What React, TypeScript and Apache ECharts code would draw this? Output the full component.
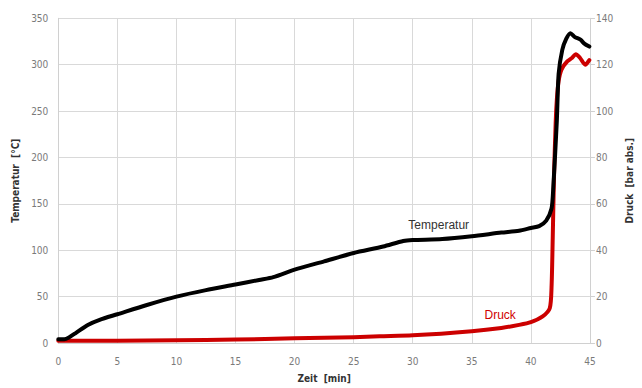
import React, { useEffect, useRef } from "react";
import * as echarts from "echarts";

const timeTemp: number[] = [0, 0.5, 0.9, 1.5, 2.5, 3.5, 5, 7.5, 10, 12.5, 15, 17, 18.2, 20, 22.5, 25, 27.5, 29.2, 30, 32.5, 35, 37.5, 39, 40, 40.7, 41.3, 41.75, 41.9, 42.2, 42.35, 42.66, 43.0, 43.35, 43.7, 44.2, 44.5, 44.95];
const temperatur: number[] = [4, 4, 6, 11, 19.5, 25, 31, 41, 50, 57, 63, 68, 71, 79, 88, 97, 104, 110, 111, 112, 115, 119, 121, 124, 126, 132, 145, 168, 240, 290, 316, 328, 334, 330, 327, 323, 319.5];

const timeDruck: number[] = [0, 5, 10, 15, 20, 25, 27.2, 30, 35, 37.5, 39, 40, 41, 41.6, 41.75, 41.85, 41.95, 42.1, 42.2, 42.35, 42.6, 43.1, 43.5, 43.8, 44.15, 44.6, 44.95];
const druck: number[] = [1.0, 1.0, 1.2, 1.5, 2.0, 2.5, 2.9, 3.3, 5.1, 6.5, 7.8, 9.0, 11.5, 15, 24, 45, 70, 95, 105, 113, 118, 121.5, 123, 124.5, 123, 120, 122];

const xTicks = { min: 0, max: 45, interval: 5 };
const yLeftTicks = { min: 0, max: 350, interval: 50 };
const yRightTicks = { min: 0, max: 140, interval: 20 };

const FONT = "'Liberation Sans Narrow', 'DejaVu Sans Condensed', 'Liberation Sans', sans-serif";

export default function App() {
  const ref = useRef<HTMLDivElement>(null);
  useEffect(() => {
    document.body.style.margin = "0";
    const chart = echarts.init(ref.current!, undefined, { renderer: "svg" });
    const axisLabel = { color: "#7a7a7a", fontSize: 10, fontFamily: FONT };
    const nameStyle = { color: "#333", fontSize: 10, fontWeight: "bold" as const, fontFamily: FONT };
    const splitLine = { show: true, lineStyle: { color: "#d9d9d9", width: 1 } };
    chart.setOption({
      animation: false,
      backgroundColor: "#fff",
      grid: { left: 58.3, right: 51.5, top: 18.3, bottom: 44.2, containLabel: false },
      xAxis: {
        type: "value",
        ...xTicks,
        name: "Zeit  [min]",
        nameLocation: "middle",
        nameGap: 30,
        nameTextStyle: nameStyle,
        axisLine: { show: true, lineStyle: { color: "#d0d0d0" } },
        axisTick: { show: false },
        axisLabel: { ...axisLabel, margin: 13 },
        splitLine,
      },
      yAxis: [
        {
          type: "value",
          ...yLeftTicks,
          name: "Temperatur  [°C]",
          nameLocation: "middle",
          nameGap: 36,
          nameRotate: 90,
          nameTextStyle: nameStyle,
          axisLine: { show: true, lineStyle: { color: "#d0d0d0" } },
          axisTick: { show: false },
          axisLabel: { ...axisLabel, margin: 10 },
          splitLine,
        },
        {
          type: "value",
          ...yRightTicks,
          position: "right",
          name: "Druck  [bar abs.]",
          nameLocation: "middle",
          nameGap: 33,
          nameRotate: 90,
          nameTextStyle: nameStyle,
          axisLine: { show: true, lineStyle: { color: "#d0d0d0" } },
          axisTick: { show: true, length: 5, lineStyle: { color: "#d0d0d0" } },
          axisLabel: { ...axisLabel, margin: 6 },
          splitLine: { show: false },
        },
      ],
      series: [
        {
          type: "line",
          name: "Temperatur",
          yAxisIndex: 0,
          data: timeTemp.map((t, i) => [t, temperatur[i]]),
          showSymbol: false,
          smooth: 0.25,
          lineStyle: { color: "#000", width: 4, join: "round", cap: "round" },
          z: 3,
          markPoint: {
            symbol: "circle",
            symbolSize: 0,
            data: [{ coord: [32.2, 127.5] }],
            label: { show: true, formatter: "Temperatur", color: "#333", fontSize: 12, fontFamily: "'Liberation Sans', sans-serif", position: "inside" },
          },
        },
        {
          type: "line",
          name: "Druck",
          yAxisIndex: 1,
          data: timeDruck.map((t, i) => [t, druck[i]]),
          showSymbol: false,
          smooth: 0.25,
          lineStyle: { color: "#cc0000", width: 4, join: "round", cap: "round" },
          z: 2,
          markPoint: {
            symbol: "circle",
            symbolSize: 0,
            data: [{ coord: [37.4, 12] }],
            label: { show: true, formatter: "Druck", color: "#d00000", fontSize: 12, fontFamily: "'Liberation Sans', sans-serif", position: "inside" },
          },
        },
      ],
    });
    return () => chart.dispose();
  }, []);
  return <div ref={ref} style={{ width: 642, height: 388 }} />;
}
